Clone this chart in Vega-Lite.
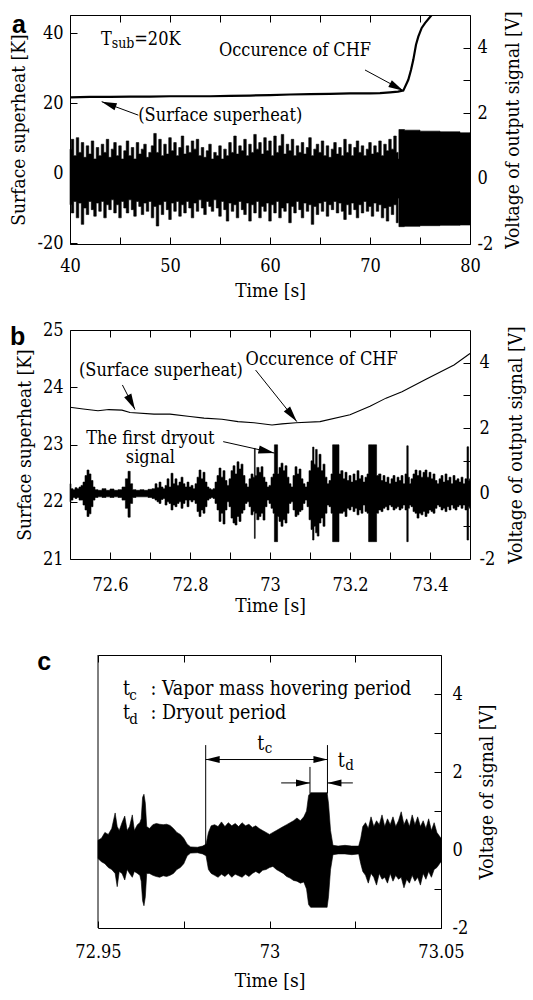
{
  "$schema": "https://vega.github.io/schema/vega-lite/v6.json",
  "autosize": {"type": "pad"},
  "padding": {"left": 9, "top": 10, "right": 0, "bottom": 0},
  "background": "white",
  "bounds": "flush",
  "spacing": 86,
  "config": {
    "view": {"stroke": "#000", "strokeWidth": 1},
    "axis": {
      "grid": false,
      "labelFont": "DejaVu Serif Condensed",
      "labelFontSize": 18,
      "labelColor": "#000",
      "labelFlush": false,
      "labelOverlap": false,
      "labelBound": false,
      "titleFont": "DejaVu Serif Condensed",
      "titleFontSize": 19,
      "titleFontWeight": "normal",
      "titleColor": "#000",
      "tickColor": "#000",
      "tickWidth": 1,
      "tickSize": -7,
      "domainColor": "#000",
      "domainWidth": 1
    },
    "text": {"font": "DejaVu Serif Condensed", "fontSize": 18, "color": "#000"}
  },
  "datasets": {
    "tempA": [
      {"t": 40, "k": 21.7}, {"t": 42, "k": 21.8}, {"t": 44, "k": 21.8}, {"t": 46, "k": 21.9},
      {"t": 48, "k": 21.9}, {"t": 50, "k": 22.0}, {"t": 52, "k": 22.0}, {"t": 54, "k": 22.0},
      {"t": 56, "k": 22.1}, {"t": 58, "k": 22.2}, {"t": 60, "k": 22.3}, {"t": 62, "k": 22.5},
      {"t": 64, "k": 22.6}, {"t": 66, "k": 22.7}, {"t": 68, "k": 22.8}, {"t": 70, "k": 22.8},
      {"t": 71, "k": 22.9}, {"t": 72, "k": 23.1}, {"t": 72.8, "k": 23.3}, {"t": 73.33, "k": 23.6},
      {"t": 73.83, "k": 26.7}, {"t": 74.1, "k": 29.5}, {"t": 74.33, "k": 32.4}, {"t": 74.6, "k": 36.7},
      {"t": 74.83, "k": 39.0}, {"t": 75.17, "k": 41.5}, {"t": 75.5, "k": 42.9}, {"t": 76.17, "k": 45.2},
      {"t": 76.4, "k": 46.0}
    ],
    "sigA": [
      {"t": 40, "hi": 0.9, "lo": -0.8}, {"t": 40.25, "hi": 1.2, "lo": -1.05}, {"t": 40.5, "hi": 0.7, "lo": -0.7},
      {"t": 40.75, "hi": 1.25, "lo": -1.2}, {"t": 41, "hi": 0.8, "lo": -0.75}, {"t": 41.25, "hi": 1.1, "lo": -1.4},
      {"t": 41.5, "hi": 0.65, "lo": -0.9}, {"t": 41.75, "hi": 1.0, "lo": -1.1}, {"t": 42, "hi": 0.75, "lo": -0.7},
      {"t": 42.25, "hi": 1.15, "lo": -0.95}, {"t": 42.5, "hi": 0.6, "lo": -1.15}, {"t": 42.75, "hi": 0.95, "lo": -0.75},
      {"t": 43, "hi": 0.7, "lo": -1.0}, {"t": 43.25, "hi": 1.05, "lo": -0.7}, {"t": 43.5, "hi": 0.8, "lo": -1.2},
      {"t": 43.75, "hi": 1.2, "lo": -0.8}, {"t": 44, "hi": 0.65, "lo": -0.95}, {"t": 44.25, "hi": 0.9, "lo": -0.65},
      {"t": 44.5, "hi": 1.1, "lo": -1.05}, {"t": 44.75, "hi": 0.7, "lo": -0.8}, {"t": 45, "hi": 1.0, "lo": -1.2},
      {"t": 45.25, "hi": 0.6, "lo": -0.7}, {"t": 45.5, "hi": 0.85, "lo": -0.9}, {"t": 45.75, "hi": 1.15, "lo": -1.05},
      {"t": 46, "hi": 0.7, "lo": -0.65}, {"t": 46.25, "hi": 0.95, "lo": -0.95}, {"t": 46.5, "hi": 0.6, "lo": -1.15},
      {"t": 46.75, "hi": 1.1, "lo": -0.7}, {"t": 47, "hi": 0.75, "lo": -0.85}, {"t": 47.25, "hi": 0.9, "lo": -1.1},
      {"t": 47.5, "hi": 1.05, "lo": -0.75}, {"t": 47.75, "hi": 0.65, "lo": -1.0}, {"t": 48, "hi": 0.8, "lo": -0.7},
      {"t": 48.25, "hi": 1.0, "lo": -1.2}, {"t": 48.5, "hi": 1.38, "lo": -0.85}, {"t": 48.75, "hi": 0.8, "lo": -1.45},
      {"t": 49, "hi": 1.2, "lo": -0.8}, {"t": 49.25, "hi": 0.7, "lo": -1.1}, {"t": 49.5, "hi": 1.05, "lo": -0.7},
      {"t": 49.75, "hi": 0.75, "lo": -0.95}, {"t": 50, "hi": 1.25, "lo": -1.25}, {"t": 50.25, "hi": 0.85, "lo": -0.75},
      {"t": 50.5, "hi": 1.1, "lo": -1.0}, {"t": 50.75, "hi": 0.7, "lo": -0.7}, {"t": 51, "hi": 0.95, "lo": -1.15},
      {"t": 51.25, "hi": 1.3, "lo": -0.8}, {"t": 51.5, "hi": 0.75, "lo": -1.05}, {"t": 51.75, "hi": 1.0, "lo": -0.7},
      {"t": 52, "hi": 0.8, "lo": -0.9}, {"t": 52.25, "hi": 1.15, "lo": -1.2}, {"t": 52.5, "hi": 0.9, "lo": -0.75},
      {"t": 52.75, "hi": 1.2, "lo": -1.0}, {"t": 53, "hi": 0.7, "lo": -0.65}, {"t": 53.25, "hi": 0.95, "lo": -0.9},
      {"t": 53.5, "hi": 0.65, "lo": -1.1}, {"t": 53.75, "hi": 0.85, "lo": -0.7}, {"t": 54, "hi": 1.05, "lo": -0.85},
      {"t": 54.25, "hi": 0.6, "lo": -1.0}, {"t": 54.5, "hi": 0.8, "lo": -0.65}, {"t": 54.75, "hi": 0.7, "lo": -0.9},
      {"t": 55, "hi": 1.0, "lo": -1.15}, {"t": 55.25, "hi": 0.6, "lo": -0.7}, {"t": 55.5, "hi": 0.9, "lo": -0.95},
      {"t": 55.75, "hi": 0.7, "lo": -1.3}, {"t": 56, "hi": 1.1, "lo": -0.75}, {"t": 56.25, "hi": 0.8, "lo": -1.0},
      {"t": 56.5, "hi": 1.3, "lo": -0.8}, {"t": 56.75, "hi": 0.75, "lo": -1.2}, {"t": 57, "hi": 1.0, "lo": -0.7},
      {"t": 57.25, "hi": 0.85, "lo": -0.95}, {"t": 57.5, "hi": 1.2, "lo": -1.1}, {"t": 57.75, "hi": 0.7, "lo": -0.75},
      {"t": 58, "hi": 1.05, "lo": -1.3}, {"t": 58.25, "hi": 0.8, "lo": -0.8}, {"t": 58.5, "hi": 1.35, "lo": -1.05},
      {"t": 58.75, "hi": 0.9, "lo": -0.7}, {"t": 59, "hi": 1.1, "lo": -1.2}, {"t": 59.25, "hi": 0.75, "lo": -0.85},
      {"t": 59.5, "hi": 1.25, "lo": -1.0}, {"t": 59.75, "hi": 0.85, "lo": -0.75}, {"t": 60, "hi": 1.15, "lo": -1.3},
      {"t": 60.25, "hi": 0.7, "lo": -0.8}, {"t": 60.5, "hi": 1.3, "lo": -1.05}, {"t": 60.75, "hi": 0.8, "lo": -0.7},
      {"t": 61, "hi": 1.0, "lo": -1.2}, {"t": 61.25, "hi": 1.35, "lo": -0.9}, {"t": 61.5, "hi": 0.75, "lo": -1.0},
      {"t": 61.75, "hi": 1.05, "lo": -0.75}, {"t": 62, "hi": 0.85, "lo": -1.35}, {"t": 62.25, "hi": 1.2, "lo": -0.85},
      {"t": 62.5, "hi": 0.7, "lo": -1.05}, {"t": 62.75, "hi": 1.0, "lo": -0.7}, {"t": 63, "hi": 0.8, "lo": -0.95},
      {"t": 63.25, "hi": 1.1, "lo": -1.2}, {"t": 63.5, "hi": 0.75, "lo": -0.75}, {"t": 63.75, "hi": 0.95, "lo": -1.0},
      {"t": 64, "hi": 1.25, "lo": -0.8}, {"t": 64.25, "hi": 0.7, "lo": -1.4}, {"t": 64.5, "hi": 0.9, "lo": -0.85},
      {"t": 64.75, "hi": 1.05, "lo": -1.1}, {"t": 65, "hi": 0.8, "lo": -0.75}, {"t": 65.25, "hi": 1.15, "lo": -1.0},
      {"t": 65.5, "hi": 0.7, "lo": -0.7}, {"t": 65.75, "hi": 1.0, "lo": -1.15}, {"t": 66, "hi": 0.65, "lo": -0.8},
      {"t": 66.25, "hi": 0.9, "lo": -0.95}, {"t": 66.5, "hi": 1.1, "lo": -0.7}, {"t": 66.75, "hi": 0.75, "lo": -1.05},
      {"t": 67, "hi": 0.95, "lo": -0.75}, {"t": 67.25, "hi": 0.7, "lo": -1.0}, {"t": 67.5, "hi": 1.2, "lo": -1.25},
      {"t": 67.75, "hi": 0.8, "lo": -0.8}, {"t": 68, "hi": 1.05, "lo": -1.1}, {"t": 68.25, "hi": 0.7, "lo": -0.75},
      {"t": 68.5, "hi": 0.95, "lo": -0.95}, {"t": 68.75, "hi": 1.15, "lo": -1.2}, {"t": 69, "hi": 0.8, "lo": -0.8},
      {"t": 69.25, "hi": 1.0, "lo": -1.05}, {"t": 69.5, "hi": 0.7, "lo": -0.7}, {"t": 69.75, "hi": 0.9, "lo": -1.0},
      {"t": 70, "hi": 1.1, "lo": -0.85}, {"t": 70.25, "hi": 0.75, "lo": -1.15}, {"t": 70.5, "hi": 1.0, "lo": -0.75},
      {"t": 70.75, "hi": 0.8, "lo": -1.0}, {"t": 71, "hi": 1.15, "lo": -0.8}, {"t": 71.25, "hi": 0.7, "lo": -1.2},
      {"t": 71.5, "hi": 1.05, "lo": -0.9}, {"t": 71.75, "hi": 0.85, "lo": -1.3}, {"t": 72, "hi": 1.2, "lo": -0.85},
      {"t": 72.25, "hi": 0.9, "lo": -1.1}, {"t": 72.5, "hi": 1.3, "lo": -0.8}, {"t": 72.75, "hi": 0.8, "lo": -1.35},
      {"t": 72.88, "hi": 0.6, "lo": -0.6}, {"t": 72.9, "hi": 1.5, "lo": -1.47}, {"t": 74, "hi": 1.48, "lo": -1.46},
      {"t": 76, "hi": 1.45, "lo": -1.44}, {"t": 78, "hi": 1.43, "lo": -1.43}, {"t": 80, "hi": 1.4, "lo": -1.42}
    ],
    "notesA": [
      {"t": 43.1, "k": 36.66, "label": "T", "kind": "main"},
      {"t": 44.17, "k": 35.71, "label": "sub", "kind": "sub"},
      {"t": 46.43, "k": 36.66, "label": "=20K", "kind": "main"},
      {"t": 54.9, "k": 33.51, "label": "Occurence of CHF", "kind": "main"},
      {"t": 46.83, "k": 15.03, "label": "(Surface superheat)", "kind": "main"},
      {"t": 34.2, "k": 40.1, "label": "a", "kind": "panel"}
    ],
    "arrowsA": [
      {"x0": 69.5, "y0": 29.5, "x1": 73.33, "y1": 23.6, "dir": 118},
      {"x0": 46.83, "y0": 16.6, "x1": 43.17, "y1": 20.46, "dir": 290}
    ],
    "tempB": [
      {"t": 72.5, "k": 23.65}, {"t": 72.533, "k": 23.62}, {"t": 72.57, "k": 23.59}, {"t": 72.597, "k": 23.61},
      {"t": 72.63, "k": 23.6}, {"t": 72.65, "k": 23.56}, {"t": 72.71, "k": 23.53}, {"t": 72.75, "k": 23.53},
      {"t": 72.8, "k": 23.49}, {"t": 72.835, "k": 23.46}, {"t": 72.88, "k": 23.44}, {"t": 72.92, "k": 23.4},
      {"t": 72.96, "k": 23.38}, {"t": 73.005, "k": 23.34}, {"t": 73.03, "k": 23.36}, {"t": 73.065, "k": 23.38},
      {"t": 73.125, "k": 23.4}, {"t": 73.2, "k": 23.52}, {"t": 73.25, "k": 23.67}, {"t": 73.29, "k": 23.81},
      {"t": 73.33, "k": 23.92}, {"t": 73.39, "k": 24.14}, {"t": 73.46, "k": 24.39}, {"t": 73.5, "k": 24.59}
    ],
    "sigB": [
      {"t": 72.5, "hi": 0.3, "lo": -0.25}, {"t": 72.505, "hi": 0.15, "lo": -0.2}, {"t": 72.51, "hi": 0.12, "lo": -0.12},
      {"t": 72.515, "hi": 0.18, "lo": -0.15}, {"t": 72.52, "hi": 0.15, "lo": -0.12}, {"t": 72.525, "hi": 0.2, "lo": -0.2},
      {"t": 72.53, "hi": 0.25, "lo": -0.2}, {"t": 72.535, "hi": 0.35, "lo": -0.35}, {"t": 72.54, "hi": 0.55, "lo": -0.5},
      {"t": 72.545, "hi": 0.72, "lo": -0.7}, {"t": 72.55, "hi": 0.6, "lo": -0.62}, {"t": 72.555, "hi": 0.4, "lo": -0.4},
      {"t": 72.56, "hi": 0.2, "lo": -0.2}, {"t": 72.565, "hi": 0.12, "lo": -0.12}, {"t": 72.575, "hi": 0.1, "lo": -0.1},
      {"t": 72.585, "hi": 0.15, "lo": -0.12}, {"t": 72.595, "hi": 0.1, "lo": -0.1}, {"t": 72.605, "hi": 0.14, "lo": -0.12},
      {"t": 72.615, "hi": 0.1, "lo": -0.1}, {"t": 72.625, "hi": 0.12, "lo": -0.12}, {"t": 72.635, "hi": 0.2, "lo": -0.2},
      {"t": 72.642, "hi": 0.45, "lo": -0.45}, {"t": 72.648, "hi": 0.68, "lo": -0.72}, {"t": 72.653, "hi": 0.3, "lo": -0.3},
      {"t": 72.66, "hi": 0.12, "lo": -0.12}, {"t": 72.67, "hi": 0.1, "lo": -0.1}, {"t": 72.68, "hi": 0.12, "lo": -0.1},
      {"t": 72.69, "hi": 0.1, "lo": -0.1}, {"t": 72.7, "hi": 0.13, "lo": -0.12}, {"t": 72.71, "hi": 0.15, "lo": -0.15},
      {"t": 72.715, "hi": 0.3, "lo": -0.2}, {"t": 72.72, "hi": 0.18, "lo": -0.25}, {"t": 72.725, "hi": 0.35, "lo": -0.3},
      {"t": 72.73, "hi": 0.2, "lo": -0.18}, {"t": 72.735, "hi": 0.15, "lo": -0.15}, {"t": 72.74, "hi": 0.25, "lo": -0.35},
      {"t": 72.745, "hi": 0.45, "lo": -0.25}, {"t": 72.75, "hi": 0.2, "lo": -0.3}, {"t": 72.755, "hi": 0.62, "lo": -0.5},
      {"t": 72.76, "hi": 0.3, "lo": -0.35}, {"t": 72.765, "hi": 0.45, "lo": -0.4}, {"t": 72.77, "hi": 0.25, "lo": -0.3},
      {"t": 72.775, "hi": 0.35, "lo": -0.25}, {"t": 72.78, "hi": 0.5, "lo": -0.45}, {"t": 72.785, "hi": 0.3, "lo": -0.3},
      {"t": 72.79, "hi": 0.2, "lo": -0.2}, {"t": 72.795, "hi": 0.35, "lo": -0.4}, {"t": 72.8, "hi": 0.2, "lo": -0.2},
      {"t": 72.805, "hi": 0.25, "lo": -0.25}, {"t": 72.81, "hi": 0.15, "lo": -0.2}, {"t": 72.815, "hi": 0.3, "lo": -0.3},
      {"t": 72.82, "hi": 0.5, "lo": -0.55}, {"t": 72.825, "hi": 0.72, "lo": -0.7}, {"t": 72.83, "hi": 0.45, "lo": -0.5},
      {"t": 72.835, "hi": 0.65, "lo": -0.6}, {"t": 72.84, "hi": 0.35, "lo": -0.4}, {"t": 72.845, "hi": 0.2, "lo": -0.2},
      {"t": 72.85, "hi": 0.15, "lo": -0.15}, {"t": 72.855, "hi": 0.12, "lo": -0.12}, {"t": 72.86, "hi": 0.15, "lo": -0.15},
      {"t": 72.865, "hi": 0.35, "lo": -0.3}, {"t": 72.87, "hi": 0.55, "lo": -0.5}, {"t": 72.875, "hi": 0.78, "lo": -0.85},
      {"t": 72.88, "hi": 0.5, "lo": -0.6}, {"t": 72.885, "hi": 0.7, "lo": -0.93}, {"t": 72.89, "hi": 0.4, "lo": -0.5},
      {"t": 72.895, "hi": 0.25, "lo": -0.25}, {"t": 72.9, "hi": 0.45, "lo": -0.4}, {"t": 72.905, "hi": 0.7, "lo": -0.75},
      {"t": 72.91, "hi": 0.85, "lo": -0.9}, {"t": 72.915, "hi": 0.6, "lo": -0.96}, {"t": 72.92, "hi": 0.97, "lo": -0.7},
      {"t": 72.925, "hi": 0.75, "lo": -0.85}, {"t": 72.93, "hi": 0.9, "lo": -0.6}, {"t": 72.935, "hi": 0.55, "lo": -0.5},
      {"t": 72.94, "hi": 0.3, "lo": -0.3}, {"t": 72.945, "hi": 0.2, "lo": -0.25}, {"t": 72.95, "hi": 0.45, "lo": -0.4},
      {"t": 72.955, "hi": 0.6, "lo": -0.65}, {"t": 72.96, "hi": 0.5, "lo": -0.55}, {"t": 72.962, "hi": 1.38, "lo": -1.37},
      {"t": 72.964, "hi": 0.55, "lo": -0.6}, {"t": 72.97, "hi": 0.8, "lo": -0.8}, {"t": 72.975, "hi": 0.65, "lo": -0.7},
      {"t": 72.98, "hi": 0.82, "lo": -0.6}, {"t": 72.985, "hi": 0.5, "lo": -0.81}, {"t": 72.99, "hi": 0.35, "lo": -0.4},
      {"t": 72.995, "hi": 0.2, "lo": -0.2}, {"t": 73.0, "hi": 0.25, "lo": -0.3}, {"t": 73.005, "hi": 0.5, "lo": -0.45},
      {"t": 73.01, "hi": 0.6, "lo": -0.6}, {"t": 73.012, "hi": 1.49, "lo": -1.47}, {"t": 73.018, "hi": 1.49, "lo": -1.47},
      {"t": 73.02, "hi": 0.6, "lo": -0.7}, {"t": 73.025, "hi": 0.8, "lo": -0.85}, {"t": 73.03, "hi": 0.93, "lo": -1.0},
      {"t": 73.035, "hi": 0.7, "lo": -0.8}, {"t": 73.04, "hi": 0.85, "lo": -0.9}, {"t": 73.045, "hi": 0.5, "lo": -0.6},
      {"t": 73.05, "hi": 0.3, "lo": -0.3}, {"t": 73.055, "hi": 0.2, "lo": -0.25}, {"t": 73.06, "hi": 0.55, "lo": -0.5},
      {"t": 73.065, "hi": 0.82, "lo": -0.7}, {"t": 73.07, "hi": 0.6, "lo": -0.65}, {"t": 73.075, "hi": 0.75, "lo": -0.55},
      {"t": 73.08, "hi": 0.45, "lo": -0.5}, {"t": 73.085, "hi": 0.3, "lo": -0.3}, {"t": 73.09, "hi": 0.2, "lo": -0.2},
      {"t": 73.095, "hi": 0.35, "lo": -0.4}, {"t": 73.1, "hi": 0.7, "lo": -0.8}, {"t": 73.105, "hi": 1.0, "lo": -1.1},
      {"t": 73.108, "hi": 1.42, "lo": -1.42}, {"t": 73.112, "hi": 0.9, "lo": -1.0}, {"t": 73.116, "hi": 1.35, "lo": -1.2},
      {"t": 73.12, "hi": 0.8, "lo": -1.3}, {"t": 73.125, "hi": 1.2, "lo": -0.9}, {"t": 73.13, "hi": 0.7, "lo": -0.75},
      {"t": 73.135, "hi": 0.9, "lo": -1.0}, {"t": 73.14, "hi": 0.5, "lo": -0.6}, {"t": 73.145, "hi": 0.3, "lo": -0.35},
      {"t": 73.15, "hi": 0.4, "lo": -0.4}, {"t": 73.155, "hi": 0.6, "lo": -0.6}, {"t": 73.158, "hi": 1.49, "lo": -1.47},
      {"t": 73.171, "hi": 1.49, "lo": -1.47}, {"t": 73.174, "hi": 0.6, "lo": -0.6}, {"t": 73.18, "hi": 0.7, "lo": -0.6},
      {"t": 73.185, "hi": 0.45, "lo": -0.55}, {"t": 73.19, "hi": 0.65, "lo": -0.7}, {"t": 73.195, "hi": 0.4, "lo": -0.45},
      {"t": 73.2, "hi": 0.55, "lo": -0.5}, {"t": 73.205, "hi": 0.35, "lo": -0.4}, {"t": 73.21, "hi": 0.6, "lo": -0.55},
      {"t": 73.215, "hi": 0.4, "lo": -0.45}, {"t": 73.22, "hi": 0.7, "lo": -0.65}, {"t": 73.225, "hi": 0.45, "lo": -0.5},
      {"t": 73.23, "hi": 0.55, "lo": -0.6}, {"t": 73.235, "hi": 0.35, "lo": -0.35}, {"t": 73.24, "hi": 0.5, "lo": -0.55},
      {"t": 73.245, "hi": 0.6, "lo": -0.6}, {"t": 73.248, "hi": 1.49, "lo": -1.47}, {"t": 73.265, "hi": 1.49, "lo": -1.47},
      {"t": 73.268, "hi": 0.55, "lo": -0.6}, {"t": 73.275, "hi": 0.6, "lo": -0.5}, {"t": 73.28, "hi": 0.4, "lo": -0.55},
      {"t": 73.285, "hi": 0.55, "lo": -0.45}, {"t": 73.29, "hi": 0.35, "lo": -0.4}, {"t": 73.295, "hi": 0.5, "lo": -0.5},
      {"t": 73.3, "hi": 0.3, "lo": -0.35}, {"t": 73.305, "hi": 0.45, "lo": -0.4}, {"t": 73.31, "hi": 0.55, "lo": -0.5},
      {"t": 73.315, "hi": 0.35, "lo": -0.45}, {"t": 73.32, "hi": 0.5, "lo": -0.4}, {"t": 73.325, "hi": 0.4, "lo": -0.5},
      {"t": 73.33, "hi": 0.55, "lo": -0.45}, {"t": 73.335, "hi": 0.3, "lo": -0.35}, {"t": 73.34, "hi": 0.6, "lo": -0.5},
      {"t": 73.344, "hi": 1.46, "lo": -1.47}, {"t": 73.347, "hi": 0.5, "lo": -0.45}, {"t": 73.35, "hi": 0.3, "lo": -0.35},
      {"t": 73.355, "hi": 0.45, "lo": -0.4}, {"t": 73.36, "hi": 0.6, "lo": -0.55}, {"t": 73.365, "hi": 0.72, "lo": -0.6},
      {"t": 73.37, "hi": 0.55, "lo": -0.75}, {"t": 73.375, "hi": 0.7, "lo": -0.6}, {"t": 73.38, "hi": 0.5, "lo": -0.65},
      {"t": 73.385, "hi": 0.65, "lo": -0.55}, {"t": 73.39, "hi": 0.72, "lo": -0.7}, {"t": 73.395, "hi": 0.5, "lo": -0.6},
      {"t": 73.4, "hi": 0.65, "lo": -0.5}, {"t": 73.405, "hi": 0.45, "lo": -0.55}, {"t": 73.41, "hi": 0.6, "lo": -0.6},
      {"t": 73.415, "hi": 0.4, "lo": -0.45}, {"t": 73.42, "hi": 0.3, "lo": -0.35}, {"t": 73.425, "hi": 0.45, "lo": -0.4},
      {"t": 73.43, "hi": 0.55, "lo": -0.5}, {"t": 73.435, "hi": 0.35, "lo": -0.45}, {"t": 73.44, "hi": 0.6, "lo": -0.55},
      {"t": 73.445, "hi": 0.4, "lo": -0.4}, {"t": 73.45, "hi": 0.5, "lo": -0.5}, {"t": 73.455, "hi": 0.3, "lo": -0.35},
      {"t": 73.46, "hi": 0.55, "lo": -0.45}, {"t": 73.465, "hi": 0.4, "lo": -0.5}, {"t": 73.47, "hi": 0.45, "lo": -0.4},
      {"t": 73.475, "hi": 0.35, "lo": -0.35}, {"t": 73.48, "hi": 0.5, "lo": -0.45}, {"t": 73.485, "hi": 0.3, "lo": -0.35},
      {"t": 73.49, "hi": 0.45, "lo": -0.5}, {"t": 73.495, "hi": 1.43, "lo": -1.42}, {"t": 73.498, "hi": 0.4, "lo": -0.4},
      {"t": 73.5, "hi": 0.45, "lo": -0.45}
    ],
    "notesB": [
      {"t": 72.5225, "k": 24.2, "label": "(Surface superheat)", "kind": "main"},
      {"t": 72.939, "k": 24.39, "label": "Occurence of CHF", "kind": "main"},
      {"t": 72.701, "k": 23.01, "label": "The first dryout", "kind": "center"},
      {"t": 72.701, "k": 22.67, "label": "signal", "kind": "center"},
      {"t": 72.35, "k": 24.74, "label": "b", "kind": "panel"}
    ],
    "arrowsB": [
      {"x0": 72.631, "y0": 24.04, "x1": 72.6625, "y1": 23.61, "dir": 153},
      {"x0": 72.964, "y0": 24.3, "x1": 73.067, "y1": 23.4, "dir": 142},
      {"x0": 72.883, "y0": 23.05, "x1": 73.011, "y1": 22.85, "dir": 103}
    ],
    "sigC": [
      {"t": 72.95, "hi": 0.25, "lo": -0.22}, {"t": 72.951, "hi": 0.3, "lo": -0.3}, {"t": 72.952, "hi": 0.45, "lo": -0.35},
      {"t": 72.953, "hi": 0.4, "lo": -0.45}, {"t": 72.954, "hi": 0.55, "lo": -0.5}, {"t": 72.955, "hi": 0.95, "lo": -0.6},
      {"t": 72.9556, "hi": 0.6, "lo": -0.94}, {"t": 72.9562, "hi": 0.5, "lo": -0.55}, {"t": 72.957, "hi": 0.7, "lo": -0.6},
      {"t": 72.9578, "hi": 0.87, "lo": -0.77}, {"t": 72.9585, "hi": 0.5, "lo": -0.5}, {"t": 72.9592, "hi": 0.6, "lo": -0.6},
      {"t": 72.96, "hi": 0.9, "lo": -0.7}, {"t": 72.9606, "hi": 0.5, "lo": -0.55}, {"t": 72.9615, "hi": 0.65, "lo": -0.6},
      {"t": 72.9622, "hi": 0.7, "lo": -0.65}, {"t": 72.9626, "hi": 0.8, "lo": -0.8}, {"t": 72.963, "hi": 1.35, "lo": -1.3},
      {"t": 72.9634, "hi": 1.43, "lo": -1.43}, {"t": 72.9638, "hi": 1.2, "lo": -1.2}, {"t": 72.9642, "hi": 0.6, "lo": -0.6},
      {"t": 72.965, "hi": 0.55, "lo": -0.6}, {"t": 72.966, "hi": 0.65, "lo": -0.65}, {"t": 72.967, "hi": 0.68, "lo": -0.68},
      {"t": 72.968, "hi": 0.66, "lo": -0.7}, {"t": 72.969, "hi": 0.65, "lo": -0.66}, {"t": 72.97, "hi": 0.66, "lo": -0.68},
      {"t": 72.971, "hi": 0.63, "lo": -0.65}, {"t": 72.972, "hi": 0.55, "lo": -0.6}, {"t": 72.973, "hi": 0.45, "lo": -0.5},
      {"t": 72.974, "hi": 0.4, "lo": -0.45}, {"t": 72.975, "hi": 0.3, "lo": -0.35}, {"t": 72.976, "hi": 0.15, "lo": -0.15},
      {"t": 72.977, "hi": 0.08, "lo": -0.08}, {"t": 72.979, "hi": 0.07, "lo": -0.07}, {"t": 72.9805, "hi": 0.1, "lo": -0.1},
      {"t": 72.9815, "hi": 0.15, "lo": -0.15}, {"t": 72.9822, "hi": 0.45, "lo": -0.5}, {"t": 72.983, "hi": 0.62, "lo": -0.6},
      {"t": 72.984, "hi": 0.65, "lo": -0.65}, {"t": 72.985, "hi": 0.6, "lo": -0.7}, {"t": 72.986, "hi": 0.72, "lo": -0.62},
      {"t": 72.987, "hi": 0.6, "lo": -0.68}, {"t": 72.988, "hi": 0.7, "lo": -0.6}, {"t": 72.989, "hi": 0.62, "lo": -0.7},
      {"t": 72.99, "hi": 0.68, "lo": -0.62}, {"t": 72.991, "hi": 0.6, "lo": -0.66}, {"t": 72.992, "hi": 0.7, "lo": -0.7},
      {"t": 72.993, "hi": 0.62, "lo": -0.62}, {"t": 72.994, "hi": 0.66, "lo": -0.68}, {"t": 72.995, "hi": 0.58, "lo": -0.6},
      {"t": 72.996, "hi": 0.62, "lo": -0.55}, {"t": 72.997, "hi": 0.55, "lo": -0.6}, {"t": 72.998, "hi": 0.5, "lo": -0.52},
      {"t": 72.999, "hi": 0.45, "lo": -0.5}, {"t": 73.0, "hi": 0.4, "lo": -0.45}, {"t": 73.001, "hi": 0.45, "lo": -0.42},
      {"t": 73.002, "hi": 0.5, "lo": -0.5}, {"t": 73.003, "hi": 0.55, "lo": -0.55}, {"t": 73.004, "hi": 0.6, "lo": -0.6},
      {"t": 73.005, "hi": 0.65, "lo": -0.68}, {"t": 73.006, "hi": 0.7, "lo": -0.72}, {"t": 73.007, "hi": 0.75, "lo": -0.78},
      {"t": 73.008, "hi": 0.82, "lo": -0.8}, {"t": 73.009, "hi": 0.75, "lo": -0.85}, {"t": 73.01, "hi": 0.85, "lo": -0.82},
      {"t": 73.0108, "hi": 1.0, "lo": -1.0}, {"t": 73.0114, "hi": 1.4, "lo": -1.4}, {"t": 73.012, "hi": 1.47, "lo": -1.47},
      {"t": 73.0168, "hi": 1.47, "lo": -1.47}, {"t": 73.0172, "hi": 1.2, "lo": -1.2}, {"t": 73.0178, "hi": 0.5, "lo": -0.5},
      {"t": 73.0185, "hi": 0.12, "lo": -0.12}, {"t": 73.02, "hi": 0.1, "lo": -0.1}, {"t": 73.022, "hi": 0.12, "lo": -0.1},
      {"t": 73.024, "hi": 0.1, "lo": -0.12}, {"t": 73.026, "hi": 0.1, "lo": -0.1}, {"t": 73.0266, "hi": 0.3, "lo": -0.35},
      {"t": 73.0272, "hi": 0.6, "lo": -0.55}, {"t": 73.028, "hi": 0.7, "lo": -0.65}, {"t": 73.0288, "hi": 0.55, "lo": -0.85},
      {"t": 73.0296, "hi": 0.85, "lo": -0.6}, {"t": 73.0304, "hi": 0.6, "lo": -0.7}, {"t": 73.0312, "hi": 0.75, "lo": -0.9},
      {"t": 73.032, "hi": 0.65, "lo": -0.6}, {"t": 73.0328, "hi": 0.9, "lo": -0.75}, {"t": 73.0336, "hi": 0.6, "lo": -0.7},
      {"t": 73.0344, "hi": 0.8, "lo": -0.85}, {"t": 73.0352, "hi": 0.65, "lo": -0.6}, {"t": 73.036, "hi": 0.85, "lo": -0.8},
      {"t": 73.0368, "hi": 0.6, "lo": -0.65}, {"t": 73.0376, "hi": 0.75, "lo": -0.75}, {"t": 73.0384, "hi": 0.98, "lo": -0.7},
      {"t": 73.0392, "hi": 0.65, "lo": -0.97}, {"t": 73.04, "hi": 0.8, "lo": -0.75}, {"t": 73.0408, "hi": 0.6, "lo": -0.85},
      {"t": 73.0416, "hi": 0.9, "lo": -0.65}, {"t": 73.0424, "hi": 0.65, "lo": -0.8}, {"t": 73.0432, "hi": 0.85, "lo": -0.7},
      {"t": 73.044, "hi": 0.6, "lo": -0.9}, {"t": 73.0448, "hi": 0.75, "lo": -0.6}, {"t": 73.0456, "hi": 0.55, "lo": -0.75},
      {"t": 73.0464, "hi": 0.8, "lo": -0.55}, {"t": 73.0472, "hi": 0.5, "lo": -0.7}, {"t": 73.048, "hi": 0.7, "lo": -0.5},
      {"t": 73.0488, "hi": 0.45, "lo": -0.45}, {"t": 73.05, "hi": 0.3, "lo": -0.3}
    ],
    "notesC": [
      {"t": 72.9573, "v": 3.97, "label": "t", "kind": "main"},
      {"t": 72.9591, "v": 3.84, "label": "c", "kind": "sub"},
      {"t": 72.9653, "v": 3.97, "label": ": Vapor mass hovering period", "kind": "main"},
      {"t": 72.9573, "v": 3.37, "label": "t", "kind": "main"},
      {"t": 72.9591, "v": 3.24, "label": "d", "kind": "sub"},
      {"t": 72.9653, "v": 3.37, "label": ": Dryout period", "kind": "main"},
      {"t": 72.9964, "v": 2.56, "label": "t", "kind": "main"},
      {"t": 72.9986, "v": 2.49, "label": "c", "kind": "sub"},
      {"t": 73.0199, "v": 2.13, "label": "t", "kind": "main"},
      {"t": 73.0221, "v": 2.05, "label": "d", "kind": "sub"},
      {"t": 72.9323, "v": 4.61, "label": "c", "kind": "panel"}
    ],
    "linesC": [
      {"x0": 72.95, "y0": -2, "x1": 72.95, "y1": 5},
      {"x0": 72.9814, "y0": 0.08, "x1": 72.9814, "y1": 2.69},
      {"x0": 73.0169, "y0": 1.45, "x1": 73.0169, "y1": 2.69},
      {"x0": 73.0118, "y0": 1.45, "x1": 73.0118, "y1": 2.13},
      {"x0": 72.9814, "y0": 2.32, "x1": 73.0169, "y1": 2.32},
      {"x0": 73.0034, "y0": 1.72, "x1": 73.0118, "y1": 1.72},
      {"x0": 73.0243, "y0": 1.72, "x1": 73.0169, "y1": 1.72}
    ],
    "headsC": [
      {"t": 72.9814, "v": 2.32, "dir": 270},
      {"t": 73.0169, "v": 2.32, "dir": 90},
      {"t": 73.0118, "v": 1.72, "dir": 90},
      {"t": 73.0169, "v": 1.72, "dir": 270}
    ]
  },
  "vconcat": [
    {
      "width": 400,
      "height": 229,
      "resolve": {"scale": {"y": "independent"}, "axis": {"x": "independent"}},
      "layer": [
        {
          "layer": [
            {
              "data": {"name": "tempA"},
              "mark": {"type": "line", "color": "#000", "strokeWidth": 2.2, "clip": true},
              "encoding": {
                "x": {"field": "t", "type": "quantitative", "scale": {"domain": [40, 80], "nice": false, "zero": false},
                  "axis": {"orient": "bottom", "title": "Time [s]", "values": [40, 45, 50, 55, 60, 65, 70, 75, 80], "labelOverlap": false,
                    "labelExpr": "datum.value % 10 === 0 ? '' + datum.value : ''", "domain": false, "labelPadding": 20, "titlePadding": 6}},
                "y": {"field": "k", "type": "quantitative", "scale": {"domain": [-20.2, 45.2], "nice": false, "zero": false},
                  "axis": {"orient": "left", "title": "Surface superheat [K]", "values": [-20, -10, 0, 10, 20, 30, 40], "labelOverlap": false,
                    "labelExpr": "datum.value % 20 === 0 ? '' + datum.value : ''", "domain": false, "labelPadding": 14, "titlePadding": 8}}
              }
            },
            {
              "data": {"name": "notesA"},
              "transform": [{"filter": "datum.kind === 'main'"}],
              "mark": {"type": "text", "align": "left", "baseline": "alphabetic"},
              "encoding": {"x": {"field": "t", "type": "quantitative"}, "y": {"field": "k", "type": "quantitative"}, "text": {"field": "label"}}
            },
            {
              "data": {"name": "notesA"},
              "transform": [{"filter": "datum.kind === 'sub'"}],
              "mark": {"type": "text", "align": "left", "baseline": "alphabetic", "fontSize": 14},
              "encoding": {"x": {"field": "t", "type": "quantitative"}, "y": {"field": "k", "type": "quantitative"}, "text": {"field": "label"}}
            },
            {
              "data": {"name": "notesA"},
              "transform": [{"filter": "datum.kind === 'panel'"}],
              "mark": {"type": "text", "align": "left", "baseline": "alphabetic", "font": "Liberation Sans", "fontWeight": "bold", "fontSize": 25},
              "encoding": {"x": {"field": "t", "type": "quantitative"}, "y": {"field": "k", "type": "quantitative"}, "text": {"field": "label"}}
            },
            {
              "data": {"name": "arrowsA"},
              "mark": {"type": "rule", "color": "#000", "strokeWidth": 1},
              "encoding": {"x": {"field": "x0", "type": "quantitative"}, "y": {"field": "y0", "type": "quantitative"}, "x2": {"field": "x1"}, "y2": {"field": "y1"}}
            },
            {
              "data": {"name": "arrowsA"},
              "mark": {"type": "point", "shape": "M0,0L0.5,2L-0.5,2Z", "filled": true, "color": "#000", "opacity": 1, "size": 225, "strokeWidth": 0},
              "encoding": {"x": {"field": "x1", "type": "quantitative"}, "y": {"field": "y1", "type": "quantitative"}, "angle": {"field": "dir", "type": "quantitative", "scale": null}}
            }
          ]
        },
        {
          "layer": [
            {
              "data": {"name": "sigA"},
              "mark": {"type": "area", "color": "#000", "stroke": "#000", "strokeWidth": 0.6, "interpolate": "step"},
              "encoding": {
                "x": {"field": "t", "type": "quantitative", "scale": {"domain": [40, 80], "nice": false, "zero": false},
                  "axis": {"orient": "top", "labels": false, "title": null, "domain": false, "values": [40, 45, 50, 55, 60, 65, 70, 75, 80]}},
                "y": {"field": "hi", "type": "quantitative", "scale": {"domain": [-2, 5], "nice": false, "zero": false},
                  "axis": {"orient": "right", "title": "Voltage of output signal [V]", "values": [-2, -1, 0, 1, 2, 3, 4], "labelOverlap": false,
                    "labelExpr": "datum.value % 2 === 0 ? '' + datum.value : ''", "domain": false, "labelPadding": 14,
                    "titleAngle": 270, "titleBaseline": "top", "titlePadding": 11}},
                "y2": {"field": "lo"}
              }
            }
          ]
        }
      ]
    },
    {
      "width": 400,
      "height": 229,
      "resolve": {"scale": {"y": "independent"}, "axis": {"x": "independent"}},
      "layer": [
        {
          "layer": [
            {
              "data": {"name": "tempB"},
              "mark": {"type": "line", "color": "#000", "strokeWidth": 1.1},
              "encoding": {
                "x": {"field": "t", "type": "quantitative", "scale": {"domain": [72.5, 73.5], "nice": false, "zero": false},
                  "axis": {"orient": "bottom", "title": "Time [s]", "values": [72.6, 72.7, 72.8, 72.9, 73.0, 73.1, 73.2, 73.3, 73.4], "labelOverlap": false,
                    "labelExpr": "round(datum.value * 10) % 2 === 0 ? '' + datum.value : ''", "domain": false, "labelPadding": 24, "titlePadding": 2}},
                "y": {"field": "k", "type": "quantitative", "scale": {"domain": [21, 25], "nice": false, "zero": false},
                  "axis": {"orient": "left", "title": "Surface superheat [K]", "values": [21, 21.5, 22, 22.5, 23, 23.5, 24, 24.5, 25], "labelOverlap": false,
                    "labelExpr": "datum.value % 1 === 0 ? '' + datum.value : ''", "domain": false, "labelPadding": 14, "titlePadding": 8}}
              }
            },
            {
              "data": {"name": "notesB"},
              "transform": [{"filter": "datum.kind === 'main'"}],
              "mark": {"type": "text", "align": "left", "baseline": "alphabetic"},
              "encoding": {"x": {"field": "t", "type": "quantitative"}, "y": {"field": "k", "type": "quantitative"}, "text": {"field": "label"}}
            },
            {
              "data": {"name": "notesB"},
              "transform": [{"filter": "datum.kind === 'center'"}],
              "mark": {"type": "text", "align": "center", "baseline": "alphabetic"},
              "encoding": {"x": {"field": "t", "type": "quantitative"}, "y": {"field": "k", "type": "quantitative"}, "text": {"field": "label"}}
            },
            {
              "data": {"name": "notesB"},
              "transform": [{"filter": "datum.kind === 'panel'"}],
              "mark": {"type": "text", "align": "left", "baseline": "alphabetic", "font": "Liberation Sans", "fontWeight": "bold", "fontSize": 25},
              "encoding": {"x": {"field": "t", "type": "quantitative"}, "y": {"field": "k", "type": "quantitative"}, "text": {"field": "label"}}
            },
            {
              "data": {"name": "arrowsB"},
              "mark": {"type": "rule", "color": "#000", "strokeWidth": 1},
              "encoding": {"x": {"field": "x0", "type": "quantitative"}, "y": {"field": "y0", "type": "quantitative"}, "x2": {"field": "x1"}, "y2": {"field": "y1"}}
            },
            {
              "data": {"name": "arrowsB"},
              "mark": {"type": "point", "shape": "M0,0L0.5,2L-0.5,2Z", "filled": true, "color": "#000", "opacity": 1, "size": 256, "strokeWidth": 0},
              "encoding": {"x": {"field": "x1", "type": "quantitative"}, "y": {"field": "y1", "type": "quantitative"}, "angle": {"field": "dir", "type": "quantitative", "scale": null}}
            }
          ]
        },
        {
          "layer": [
            {
              "data": {"name": "sigB"},
              "mark": {"type": "area", "color": "#000", "stroke": "#000", "strokeWidth": 0.6, "interpolate": "step"},
              "encoding": {
                "x": {"field": "t", "type": "quantitative", "scale": {"domain": [72.5, 73.5], "nice": false, "zero": false},
                  "axis": {"orient": "top", "labels": false, "title": null, "domain": false, "values": [72.6, 72.7, 72.8, 72.9, 73.0, 73.1, 73.2, 73.3, 73.4]}},
                "y": {"field": "hi", "type": "quantitative", "scale": {"domain": [-2, 5], "nice": false, "zero": false},
                  "axis": {"orient": "right", "title": "Voltage of output signal [V]", "values": [-2, -1, 0, 1, 2, 3, 4], "labelOverlap": false,
                    "labelExpr": "datum.value % 2 === 0 ? '' + datum.value : ''", "domain": false, "labelPadding": 16,
                    "titleAngle": 270, "titleBaseline": "top", "titlePadding": 12}},
                "y2": {"field": "lo"}
              }
            }
          ]
        }
      ]
    },
    {
      "width": 371,
      "height": 283,
      "view": {"stroke": null},
      "resolve": {"scale": {"y": "independent"}, "axis": {"x": "independent"}},
      "layer": [
        {
          "layer": [
            {
              "data": {"name": "linesC"},
              "mark": {"type": "rule", "color": "#000", "strokeWidth": 1},
              "encoding": {
                "x": {"field": "x0", "type": "quantitative", "scale": {"domain": [72.95, 73.05], "range": [28, 371], "nice": false, "zero": false},
                  "axis": {"orient": "top", "labels": false, "title": null, "offset": -10, "values": [72.95, 72.975, 73.0, 73.025, 73.05]}},
                "y": {"field": "y0", "type": "quantitative", "scale": {"domain": [-2, 5], "range": [283, 10], "nice": false, "zero": false}, "axis": null},
                "x2": {"field": "x1"},
                "y2": {"field": "y1"}
              }
            },
            {
              "data": {"name": "headsC"},
              "mark": {"type": "point", "shape": "M0,0L0.5,2L-0.5,2Z", "filled": true, "color": "#000", "opacity": 1, "size": 196, "strokeWidth": 0},
              "encoding": {"x": {"field": "t", "type": "quantitative"}, "y": {"field": "v", "type": "quantitative", "axis": null}, "angle": {"field": "dir", "type": "quantitative", "scale": null}}
            },
            {
              "data": {"name": "notesC"},
              "transform": [{"filter": "datum.kind === 'main'"}],
              "mark": {"type": "text", "align": "left", "baseline": "alphabetic", "fontSize": 19.5},
              "encoding": {"x": {"field": "t", "type": "quantitative"}, "y": {"field": "v", "type": "quantitative", "axis": null}, "text": {"field": "label"}}
            },
            {
              "data": {"name": "notesC"},
              "transform": [{"filter": "datum.kind === 'sub'"}],
              "mark": {"type": "text", "align": "left", "baseline": "alphabetic", "fontSize": 15},
              "encoding": {"x": {"field": "t", "type": "quantitative"}, "y": {"field": "v", "type": "quantitative", "axis": null}, "text": {"field": "label"}}
            },
            {
              "data": {"name": "notesC"},
              "transform": [{"filter": "datum.kind === 'panel'"}],
              "mark": {"type": "text", "align": "left", "baseline": "alphabetic", "font": "Liberation Sans", "fontWeight": "bold", "fontSize": 25},
              "encoding": {"x": {"field": "t", "type": "quantitative"}, "y": {"field": "v", "type": "quantitative", "axis": null}, "text": {"field": "label"}}
            }
          ]
        },
        {
          "layer": [
            {
              "data": {"name": "sigC"},
              "mark": {"type": "area", "color": "#000", "stroke": "#000", "strokeWidth": 0.6},
              "encoding": {
                "x": {"field": "t", "type": "quantitative", "scale": {"domain": [72.95, 73.05], "range": [28, 371], "nice": false, "zero": false},
                  "axis": {"orient": "bottom", "title": "Time [s]", "values": [72.95, 72.975, 73.0, 73.025, 73.05], "labelOverlap": false,
                    "labelExpr": "round(datum.value * 1000) % 50 === 0 ? '' + datum.value : ''", "labelPadding": 22, "titlePadding": 10}},
                "y": {"field": "hi", "type": "quantitative", "scale": {"domain": [-2, 5], "range": [283, 10], "nice": false, "zero": false},
                  "axis": {"orient": "right", "title": "Voltage of signal [V]", "values": [-2, -1, 0, 1, 2, 3, 4], "labelOverlap": false,
                    "labelExpr": "datum.value % 2 === 0 ? '' + datum.value : ''", "labelPadding": 18,
                    "titleAngle": 270, "titleBaseline": "top", "titlePadding": 10}},
                "y2": {"field": "lo"}
              }
            }
          ]
        }
      ]
    }
  ]
}
